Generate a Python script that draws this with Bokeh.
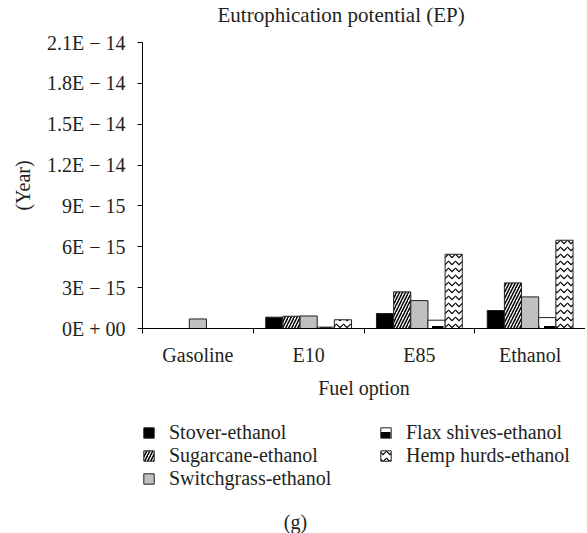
from bokeh.plotting import figure
from bokeh.models import (ColumnDataSource, FixedTicker, Legend, LegendItem, Title,
                          Range1d, Label)
from bokeh.layouts import column
from bokeh.transform import dodge
from bokeh.embed import file_html
from bokeh.resources import INLINE

# ---- data ----
fuels = ["Gasoline", "E10", "E85", "Ethanol"]
stover = [0.0, 0.83e-15, 1.1e-15, 1.32e-15]
sugarcane = [0.0, 0.9e-15, 2.69e-15, 3.35e-15]
switchgrass = [0.7e-15, 0.92e-15, 2.05e-15, 2.32e-15]
flax = [0.0, 0.1e-15, 0.61e-15, 0.8e-15]
hemp = [0.0, 0.64e-15, 5.45e-15, 6.48e-15]
series_names = ["Stover-ethanol", "Sugarcane-ethanol", "Switchgrass-ethanol",
                "Flax shives-ethanol", "Hemp hurds-ethanol"]
y_ticks = [0, 3e-15, 6e-15, 9e-15, 1.2e-14, 1.5e-14, 1.8e-14, 2.1e-14]
y_tick_labels = ["0E + 00", "3E \u2212 15", "6E \u2212 15", "9E \u2212 15",
                 "1.2E \u2212 14", "1.5E \u2212 14", "1.8E \u2212 14", "2.1E \u2212 14"]
title_text = "Eutrophication potential (EP)"
x_label = "Fuel option"
y_label = "(Year)"
panel_tag = "(g)"

FONT = "Liberation Serif"
TXT = "#231f20"
FS = "20px"

xc = [i + 0.5 for i in range(len(fuels))]
src = ColumnDataSource(dict(x=xc, stover=stover, sugarcane=sugarcane,
                            switchgrass=switchgrass, flax=flax, hemp=hemp))

p = figure(frame_width=443, frame_height=286, output_backend="svg", toolbar_location=None,
           title=title_text,
           x_range=Range1d(0, len(fuels)), y_range=Range1d(0, y_ticks[-1]),
           min_border_left=142, min_border_right=0, min_border_top=0,
           min_border_bottom=72)
p.outline_line_color = None
p.xgrid.visible = False
p.ygrid.visible = False
p.background_fill_color = "white"
p.border_fill_color = "white"

p.title.align = "left"
p.title.offset = 75
p.title.text_font = FONT
p.title.text_font_size = "21px"
p.title.text_font_style = "normal"
p.title.text_color = TXT
p.title.standoff = 0

# spacer between title and plot frame
spacer = Title(text=" ", text_font_size="1px", standoff=13)
p.add_layout(spacer, "above")

bw = 0.155
styles = [
    dict(fill_color="black"),
    dict(fill_color="white", hatch_pattern="right_diagonal_line",
         hatch_color="black", hatch_weight=1.5, hatch_scale=6),
    dict(fill_color="#c0c0c0"),
    dict(fill_color="white", hatch_pattern="horizontal_dash",
         hatch_color="black", hatch_weight=6, hatch_scale=16),
    dict(fill_color="white", hatch_pattern="horizontal_wave",
         hatch_color="black", hatch_weight=1.2, hatch_scale=7),
]
cols = ["stover", "sugarcane", "switchgrass", "flax", "hemp"]
for k, st in enumerate(styles):
    p.vbar(x=dodge("x", (k - 2) * bw, range=p.x_range), top=cols[k], width=bw,
           source=src, line_color="#231f20", line_width=1, **st)

# axes
ya = p.yaxis[0]
ya.ticker = FixedTicker(ticks=y_ticks)
ya.major_label_overrides = {t: l for t, l in zip(y_ticks, y_tick_labels)}
ya.major_tick_in = 0
ya.major_tick_out = 5
ya.minor_tick_line_color = None
ya.axis_line_color = "black"
ya.major_tick_line_color = "black"
ya.major_label_text_font = FONT
ya.major_label_text_font_size = FS
ya.major_label_text_color = TXT
ya.major_label_standoff = 12
ya.axis_label = y_label
ya.axis_label_text_font = FONT
ya.axis_label_text_font_size = FS
ya.axis_label_text_font_style = "normal"
ya.axis_label_text_color = TXT
ya.axis_label_standoff = 10

xa = p.xaxis[0]
xa.ticker = FixedTicker(ticks=xc, minor_ticks=list(range(len(fuels) + 1)))
xa.major_label_overrides = {x: f for x, f in zip(xc, fuels)}
xa.major_tick_line_color = None
xa.major_tick_in = 0
xa.major_tick_out = 0
xa.minor_tick_in = 0
xa.minor_tick_out = 5
xa.minor_tick_line_color = "black"
xa.axis_line_color = "black"
xa.major_label_text_font = FONT
xa.major_label_text_font_size = FS
xa.major_label_text_color = TXT
xa.major_label_standoff = 10
xa.axis_label = x_label
xa.axis_label_text_font = FONT
xa.axis_label_text_font_size = FS
xa.axis_label_text_font_style = "normal"
xa.axis_label_text_color = TXT
xa.axis_label_standoff = 8

# ---- legend panel (second figure; its frame is aligned with the chart frame) ----
q = figure(width=585, height=133, output_backend="svg", toolbar_location=None,
           x_range=Range1d(0, 1), y_range=Range1d(1, 2),
           x_axis_location=None, y_axis_location=None,
           min_border_left=142, min_border_right=0,
           min_border_top=0, min_border_bottom=0)
q.outline_line_color = None
q.xgrid.visible = False
q.ygrid.visible = False
q.background_fill_color = "white"
q.border_fill_color = "white"

items = []
for k, st in enumerate(styles):
    # same bars, outside this panel's visible range; used only for legend swatches
    r = q.vbar(x=dodge("x", (k - 2) * bw, range=q.x_range), top=cols[k], width=bw,
               source=src, line_color="#231f20", line_width=1, **st)
    items.append(LegendItem(label=series_names[k], renderers=[r]))

legend = Legend(items=items, ncols=2, orientation="vertical", location=(0, 44),
                label_text_font=FONT, label_text_font_size=FS, label_text_color=TXT,
                glyph_width=13, glyph_height=13, label_standoff=14,
                label_height=20, label_width=210, spacing=0,
                padding=0, margin=0, border_line_color=None,
                background_fill_alpha=0)
q.add_layout(legend, "center")

tag = Label(x=153, y=13, x_units="screen", y_units="screen", text=panel_tag,
            text_font=FONT, text_font_size=FS, text_color=TXT,
            text_align="center", text_baseline="middle")
q.add_layout(tag, "center")

layout = column(p, q, spacing=0)
open("out.html", "w").write(file_html(layout, INLINE))
